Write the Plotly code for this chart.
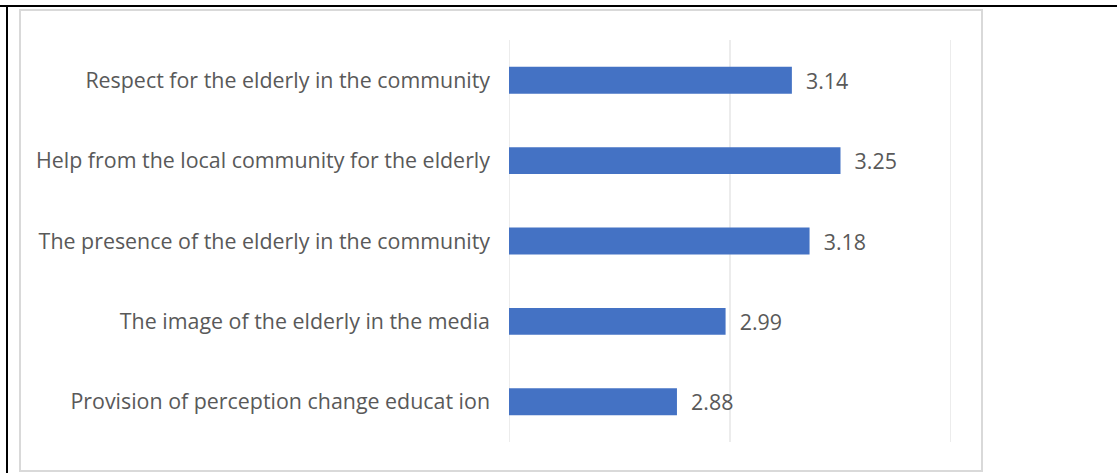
import plotly.graph_objects as go

categories = [
    "Respect for the elderly in the community",
    "Help from the local community for the elderly",
    "The presence of the elderly in the community",
    "The image of the elderly in the media",
    "Provision of perception change educat ion",
]
values = [3.14, 3.25, 3.18, 2.99, 2.88]
value_labels = ["3.14", "3.25", "3.18", "2.99", "2.88"]
axis_min, axis_max = 2.5, 3.5
grid_vals = [2.5, 3.0, 3.5]

W, H = 1117, 473
L, R, T, B = 509, 951, 40, 442
FONT = "Open Sans"
FS = 21.4

def px(x):
    return (x - L) / (R - L)

def py(y):
    return (B - y) / (B - T)

fig = go.Figure(go.Bar(
    y=categories, x=[v - axis_min for v in values], orientation="h",
    base=axis_min,
    marker=dict(color="#4472C4", line=dict(width=0)),
    text=value_labels, texttemplate="\u00a0\u00a0%{text}",
    textposition="outside", constraintext="none",
    textfont=dict(family=FONT, size=FS, color="#595959"),
    cliponaxis=False, width=0.335, hoverinfo="skip",
))

shapes = [
    dict(type="rect", xref="paper", yref="paper",
         x0=px(20), x1=px(982), y0=py(10), y1=py(471),
         line=dict(color="#d9d9d9", width=2), fillcolor="rgba(0,0,0,0)", layer="below"),
    dict(type="line", xref="paper", yref="paper",
         x0=px(0), x1=px(W), y0=py(6), y1=py(6),
         line=dict(color="black", width=2)),
    dict(type="line", xref="paper", yref="paper",
         x0=px(7), x1=px(7), y0=py(6), y1=py(H),
         line=dict(color="black", width=2)),
]
for g in grid_vals:
    shapes.append(dict(type="line", xref="x", yref="paper", x0=g, x1=g, y0=0, y1=1,
                       line=dict(color="#d9d9d9", width=1), layer="below"))

fig.update_layout(
    width=W, height=H,
    margin=dict(l=L, r=W - R, t=T, b=H - B),
    paper_bgcolor="white", plot_bgcolor="white",
    showlegend=False,
    xaxis=dict(range=[axis_min, axis_max], showticklabels=False,
               showgrid=False, zeroline=False, showline=False, fixedrange=True),
    yaxis=dict(categoryorder="array", categoryarray=categories[::-1],
               tickfont=dict(family=FONT, size=FS, color="#595959"),
               ticks="", ticklabelstandoff=18, showgrid=False, zeroline=False,
               showline=False),
    shapes=shapes,
)
fig.write_html("out.html")
